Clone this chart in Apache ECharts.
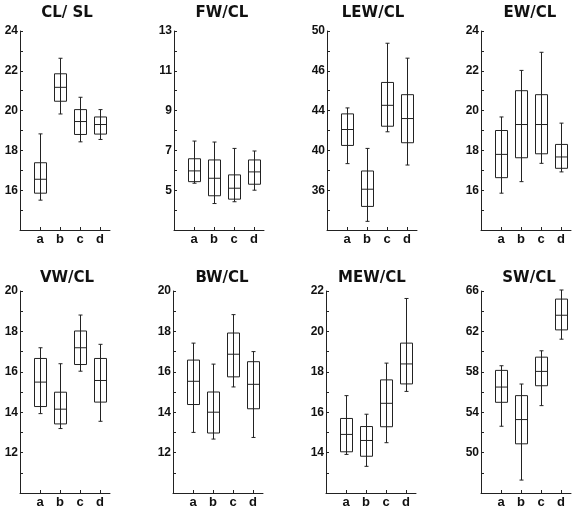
<!DOCTYPE html>
<html>
<head>
<meta charset="utf-8">
<title>Ratios by group</title>
<script src="https://cdn.jsdelivr.net/npm/echarts@6/dist/echarts.min.js"></script>
<style>
  html, body { margin: 0; padding: 0; background: #fff; }
  #chart { width: 579px; height: 513px; }
</style>
</head>
<body>
<div id="chart"></div>
<script>
// groups along the x axis
const groups = ['a', 'b', 'c', 'd']

// each box is [min, Q1, median, Q3, max], one per group
const clSl = [[15.5, 15.85, 16.55, 17.38, 18.83], [19.83, 20.47, 21.17, 21.85, 22.63], [18.43, 18.8, 19.45, 20.05, 20.67], [18.55, 18.82, 19.3, 19.68, 20.05]]
const fwCl = [[5.35, 5.43, 5.97, 6.58, 7.47], [4.33, 4.72, 5.6, 6.52, 7.42], [4.42, 4.55, 5.1, 5.77, 7.1], [5.0, 5.3, 5.92, 6.52, 6.97]]
const lewCl = [[38.67, 40.5, 42.1, 43.67, 44.27], [32.87, 34.37, 36.1, 37.93, 40.2], [41.87, 42.43, 44.53, 46.83, 50.77], [38.53, 40.77, 43.2, 45.6, 49.27]]
const ewCl = [[15.85, 16.63, 17.8, 19.0, 19.68], [16.43, 17.63, 19.3, 21.0, 22.02], [17.35, 17.83, 19.3, 20.8, 22.93], [16.92, 17.1, 17.67, 18.3, 19.37]]
const vwCl = [[13.93, 14.28, 15.49, 16.66, 17.19], [13.19, 13.42, 14.15, 14.99, 16.4], [16.03, 16.36, 17.19, 18.02, 18.81], [13.55, 14.5, 15.57, 16.66, 17.36]]
const bwCl = [[13.0, 14.38, 15.53, 16.58, 17.42], [12.67, 12.97, 14.0, 15.0, 16.38], [15.25, 15.75, 16.87, 17.92, 18.83], [12.75, 14.17, 15.38, 16.5, 17.0]]
const mewCl = [[13.91, 14.04, 14.9, 15.69, 16.82], [13.32, 13.82, 14.6, 15.29, 15.9], [14.49, 15.28, 16.44, 17.6, 18.43], [17.03, 17.4, 18.39, 19.42, 21.63]]
const swCl = [[52.61, 54.98, 56.49, 58.14, 58.6], [47.28, 50.87, 53.27, 55.64, 56.79], [54.65, 56.62, 58.04, 59.45, 60.08], [61.23, 62.15, 63.6, 65.2, 66.1]]

const titles = ['CL/ SL', 'FW/CL', 'LEW/CL', 'EW/CL', 'VW/CL', 'BW/CL', 'MEW/CL', 'SW/CL']
const panelData = [clSl, fwCl, lewCl, ewCl, vwCl, bwCl, mewCl, swCl]

// y axis ranges, minor tick step, and the labels printed on the axis
const yMin = [14, 3, 32, 14, 10, 10, 12, 46]
const yMax = [24, 13, 52, 24, 20, 20, 22, 66]
const yStep = [1, 1, 2, 1, 1, 1, 1, 2]
const yTickLabels = [
  ['16', '18', '20', '22', '24'],
  ['5', '7', '9', '11', '13'],
  ['36', '40', '44', '46', '50'],
  ['16', '18', '20', '22', '24'],
  ['12', '14', '16', '18', '20'],
  ['12', '14', '16', '18', '20'],
  ['14', '16', '18', '20', '22'],
  ['50', '54', '58', '62', '66']
]

// panel placement
const lefts = [20, 174, 327, 481, 20, 173, 326, 481]
const rowTop = [31, 291]
const rowHeight = [199, 202]
const titleTop = [6, 271]
const titleX = [67, 222, 373, 530, 67, 222, 372, 529]

const ink = '#222'
const boxHalf = 6
const capHalf = 2

function renderBox(params, api) {
  const x = api.value(0)
  const lo = api.coord([x, api.value(1)])
  const q1 = api.coord([x, api.value(2)])
  const md = api.coord([x, api.value(3)])
  const q3 = api.coord([x, api.value(4)])
  const hi = api.coord([x, api.value(5)])
  const cx = Math.round(lo[0]) + 0.5
  const style = { stroke: ink, lineWidth: 1, fill: 'none' }
  const line = (x1, y1, x2, y2) => ({ type: 'line', shape: { x1, y1, x2, y2 }, style })
  return {
    type: 'group',
    children: [
      line(cx, lo[1], cx, hi[1]),
      line(cx - capHalf, lo[1], cx + capHalf, lo[1]),
      line(cx - capHalf, hi[1], cx + capHalf, hi[1]),
      { type: 'rect', shape: { x: cx - boxHalf, y: q3[1], width: boxHalf * 2, height: q1[1] - q3[1] }, style },
      line(cx - boxHalf, md[1], cx + boxHalf, md[1])
    ]
  }
}

const grids = [], xAxes = [], yAxes = [], series = [], titleList = []

panelData.forEach((boxes, p) => {
  const row = p < 4 ? 0 : 1

  grids.push({
    left: lefts[p], top: rowTop[row], width: 90, height: rowHeight[row],
    outerBoundsMode: 'none'
  })

  xAxes.push({
    gridIndex: p,
    type: 'value',
    min: -1,
    max: 3.5,
    splitLine: { show: false },
    axisLine: { onZero: false, lineStyle: { color: ink, width: 1 } },
    axisTick: { inside: true, length: 3, customValues: [0, 1, 2, 3], lineStyle: { color: ink } },
    axisLabel: {
      customValues: [0, 1, 2, 3],
      formatter: v => groups[v] || '',
      margin: 3,
      color: '#111',
      fontFamily: 'Liberation Sans',
      fontWeight: 'bold',
      fontSize: 13
    }
  })

  const labelVals = yTickLabels[p].map((t, k) => yMin[p] + 2 * yStep[p] * (k + 1))
  const tickVals = []
  for (let v = yMin[p] + yStep[p]; v <= yMax[p] + 1e-9; v += yStep[p]) tickVals.push(v)

  yAxes.push({
    gridIndex: p,
    type: 'value',
    min: yMin[p],
    max: yMax[p],
    splitLine: { show: false },
    axisLine: { show: true, onZero: false, lineStyle: { color: ink, width: 1 } },
    axisTick: { show: true, inside: true, length: 3, customValues: tickVals, lineStyle: { color: ink } },
    axisLabel: {
      customValues: labelVals,
      formatter: v => yTickLabels[p][labelVals.indexOf(v)] || '',
      margin: 2,
      color: '#111',
      fontFamily: 'Liberation Sans',
      fontWeight: 'bold',
      fontSize: 12
    }
  })

  series.push({
    type: 'custom',
    xAxisIndex: p,
    yAxisIndex: p,
    clip: false,
    renderItem: renderBox,
    encode: { x: 0, y: [1, 2, 3, 4, 5] },
    data: boxes.map((b, i) => [i].concat(b))
  })

  titleList.push({
    text: titles[p],
    left: titleX[p],
    top: titleTop[row],
    textAlign: 'center',
    padding: 0,
    textStyle: { fontFamily: 'DejaVu Sans', fontWeight: 'bold', fontSize: 15, color: '#111' }
  })
})

const chart = echarts.init(document.getElementById('chart'))
chart.setOption({
  animation: false,
  backgroundColor: '#fff',
  title: titleList,
  grid: grids,
  xAxis: xAxes,
  yAxis: yAxes,
  series
})
</script>
</body>
</html>
